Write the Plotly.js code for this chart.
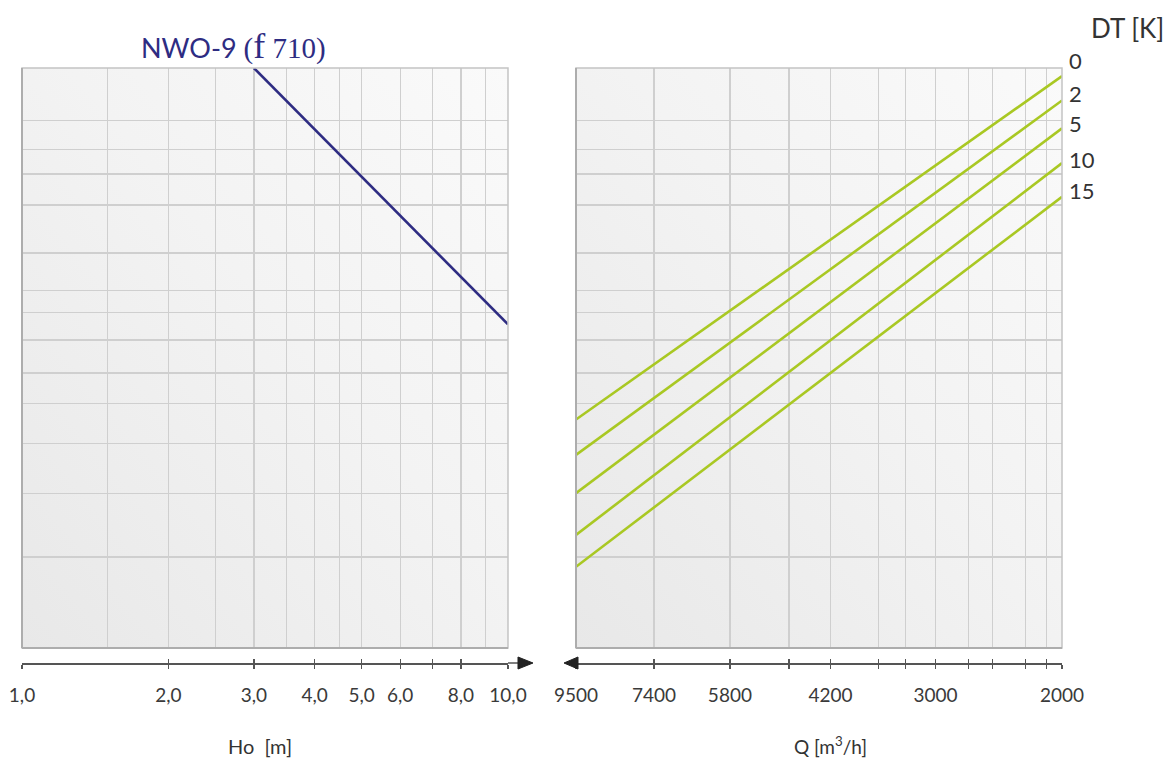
<!DOCTYPE html>
<html>
<head>
<meta charset="utf-8">
<script src="https://cdn.plot.ly/plotly-3.0.1.min.js"></script>
<style>html,body{margin:0;padding:0;background:#fff;}#chart{width:1169px;height:761px;}</style>
</head>
<body>
<div id="chart"></div>
<script>
// ---- data ----
const hoValues = [3.0, 10.0];            // Ho [m] of the NWO-9 line
const hoLineY = [100, 55.8];             // nomogram height (chart units)
const qEnds = [9500, 2000];              // Q [m3/h] at both ends of the DT lines
const dtLabels = ['0', '2', '5', '10', '15'];
const dtStartY = [39.4, 33.3, 26.7, 19.5, 14.0];   // at Q = 9500
const dtEndY = [98.6, 94.4, 89.6, 83.6, 77.8];     // at Q = 2000
const hoGrid = [1.5, 2, 2.5, 3, 3.5, 4, 4.5, 5, 6, 7, 8, 9];
const hoTicks = [1, 2, 3, 4, 5, 6, 7, 8, 10];
const hoTickText = ['1,0', '2,0', '3,0', '4,0', '5,0', '6,0', '', '8,0', '10,0'];
const qGrid = [7400, 5800, 4800, 4200, 3600, 3300, 3000, 2700, 2500, 2250, 2100];
const qTicks = [9500, 7400, 5800, 4800, 4200, 3600, 3300, 3000, 2700, 2500, 2250, 2100, 2000];
const qTickText = ['9500', '7400', '5800', '', '4200', '', '', '3000', '', '', '', '', '2000'];
const yGrid = [15.7, 26.6, 35.3, 42.1, 47.4, 53.1, 57.9, 61.6, 68.1, 76.4, 81.7, 86.0, 90.9];
const seriesTitle = 'NWO-9';
const dtTitle = 'DT [K]';

// ---- style ----
const FONT = 'Lato, "Open Sans", sans-serif';
const SERIF = '"Liberation Serif", serif';
const TXT = '#3a3a3a';
const GRID = '#cfcfcf';
const blue = '#2e2c82';
const green = '#a9c823';
const dtShift = [16, 7, 5, 4, 6];

const leftDom = [0, 0.4673];
const rightDom = [0.5327, 1];
const yDom = [0.0252, 1];

const traces = [];
traces.push({x: hoValues, y: hoLineY, xaxis: 'x', yaxis: 'y', mode: 'lines',
  line: {color: blue, width: 2.6}, hoverinfo: 'skip', showlegend: false});
dtLabels.forEach((d, i) => {
  traces.push({x: qEnds, y: [dtStartY[i], dtEndY[i]], xaxis: 'x2', yaxis: 'y', mode: 'lines',
    line: {color: green, width: 2.6}, name: d, hoverinfo: 'skip', showlegend: false});
});
['x3', 'x4', 'x5', 'x6'].forEach(a => traces.push({x: [], y: [], xaxis: a, yaxis: 'y', mode: 'lines', hoverinfo: 'skip', showlegend: false}));

const hoRange = [Math.log10(1), Math.log10(10)];
const qRange = [Math.log10(9500), Math.log10(2000)];

function gridAxis(dom, range, vals) {
  return {domain: dom, type: 'log', range: range, anchor: 'y', tickmode: 'array', tickvals: vals,
    showticklabels: false, ticks: '', showgrid: true, gridcolor: GRID, gridwidth: 1.3,
    zeroline: false, showline: false, fixedrange: true};
}
function tickAxis(over, range, vals, text, inside) {
  return {overlaying: over, anchor: 'free', position: 0, type: 'log', range: range,
    tickmode: 'array', tickvals: vals, ticktext: text, showticklabels: !inside, tickangle: 0,
    ticks: inside ? 'inside' : 'outside', ticklen: 4, tickwidth: 1.3, tickcolor: '#555',
    showgrid: false, zeroline: false, showline: !inside, linecolor: '#555', linewidth: 1.5,
    ticklabelstandoff: 11, tickfont: {family: FONT, size: 19, color: TXT}, fixedrange: true};
}

const gradSvg = "<svg xmlns='http://www.w3.org/2000/svg' width='200' height='200' viewBox='0 0 200 200' preserveAspectRatio='none'><defs><linearGradient id='g' x1='0' y1='1' x2='1' y2='0'><stop offset='0' stop-color='#e8e8e8'/><stop offset='0.55' stop-color='#f3f3f3'/><stop offset='1' stop-color='#fafafa'/></linearGradient></defs><rect width='200' height='200' fill='url(#g)'/></svg>";
const gradUrl = 'data:image/svg+xml;base64,' + btoa(gradSvg);

const shapes = [];
['x', 'x2'].forEach(ax => {
  shapes.push({type: 'rect', xref: ax + ' domain', yref: 'y domain', x0: 0, x1: 1, y0: 0, y1: 1,
    line: {color: '#c4c4c4', width: 1.5}, fillcolor: 'rgba(0,0,0,0)'});
  shapes.push({type: 'line', xref: ax + ' domain', yref: 'y domain', x0: 0, x1: 0, y0: 0, y1: 1,
    line: {color: '#adadad', width: 2}});
  shapes.push({type: 'line', xref: ax + ' domain', yref: 'y domain', x0: 0, x1: 1, y0: 0, y1: 0,
    line: {color: '#adadad', width: 2}});
});
// axis arrows
shapes.push({type: 'path', xref: 'paper', yref: 'paper', xsizemode: 'pixel', ysizemode: 'pixel',
  xanchor: leftDom[1], yanchor: 0, path: 'M 0 0 L 11 0', line: {color: '#555', width: 1.5}});
shapes.push({type: 'path', xref: 'paper', yref: 'paper', xsizemode: 'pixel', ysizemode: 'pixel',
  xanchor: leftDom[1], yanchor: 0, path: 'M 10 6 L 25 0 L 10 -6 Z', fillcolor: '#222', line: {color: '#222', width: 1}});
shapes.push({type: 'path', xref: 'paper', yref: 'paper', xsizemode: 'pixel', ysizemode: 'pixel',
  xanchor: rightDom[0], yanchor: 0, path: 'M 2 6 L -12 0 L 2 -6 Z', fillcolor: '#222', line: {color: '#222', width: 1}});

const annotations = [
  {xref: 'paper', yref: 'paper', x: 0.1125, y: 1.037, xanchor: 'left', yanchor: 'middle', showarrow: false,
   text: seriesTitle + " <span style='font-family:" + SERIF + ";font-size:29px'>(</span><span style='font-family:" + SERIF + ";font-size:36px'>f</span><span style='font-family:" + SERIF + ";font-size:29px'> 710)</span>",
   font: {family: FONT, size: 27, color: blue}},
  {xref: 'paper', yref: 'paper', x: 1.1, y: 1.067, xanchor: 'right', yanchor: 'middle', showarrow: false,
   text: dtTitle, font: {family: FONT, size: 26, color: '#333'}},
  {xref: 'paper', yref: 'paper', x: 0.2288, y: -0.139, xanchor: 'center', yanchor: 'middle', showarrow: false,
   text: 'Ho&nbsp;&nbsp;[m]', font: {family: FONT, size: 20, color: '#333'}},
  {xref: 'paper', yref: 'paper', x: 0.777, y: -0.139, xanchor: 'center', yanchor: 'middle', showarrow: false,
   text: 'Q [m<sup>3</sup>/h]', font: {family: FONT, size: 19, color: '#333'}}
];
dtLabels.forEach((d, i) => {
  annotations.push({xref: 'x2', yref: 'y', x: Math.log10(qEnds[1]), y: dtEndY[i], xanchor: 'left', yanchor: 'middle',
    xshift: 5, yshift: dtShift[i], showarrow: false, text: d, font: {family: FONT, size: 22, color: '#333'}});
});

const layout = {
  width: 1169, height: 761,
  margin: {l: 22, r: 107, t: 68, b: 98, pad: 0},
  paper_bgcolor: '#ffffff', plot_bgcolor: '#f2f2f2',
  showlegend: false,
  xaxis: gridAxis(leftDom, hoRange, hoGrid),
  xaxis2: gridAxis(rightDom, qRange, qGrid),
  xaxis3: tickAxis('x', hoRange, hoTicks, hoTickText, false),
  xaxis4: tickAxis('x', hoRange, hoTicks, hoTickText, true),
  xaxis5: tickAxis('x2', qRange, qTicks, qTickText, false),
  xaxis6: tickAxis('x2', qRange, qTicks, qTickText, true),
  yaxis: {domain: yDom, range: [0, 100], tickmode: 'array', tickvals: yGrid, showticklabels: false, ticks: '',
    showgrid: true, gridcolor: GRID, gridwidth: 1.3, zeroline: false, showline: false, fixedrange: true},
  images: [
    {source: gradUrl, xref: 'paper', yref: 'paper', x: leftDom[0], y: 1, sizex: leftDom[1] - leftDom[0], sizey: 1 - yDom[0],
     xanchor: 'left', yanchor: 'top', sizing: 'stretch', layer: 'below'},
    {source: gradUrl, xref: 'paper', yref: 'paper', x: rightDom[0], y: 1, sizex: rightDom[1] - rightDom[0], sizey: 1 - yDom[0],
     xanchor: 'left', yanchor: 'top', sizing: 'stretch', layer: 'below'}
  ],
  shapes: shapes,
  annotations: annotations
};

Plotly.newPlot('chart', traces, layout, {displayModeBar: false, staticPlot: true});
</script>
</body>
</html>
